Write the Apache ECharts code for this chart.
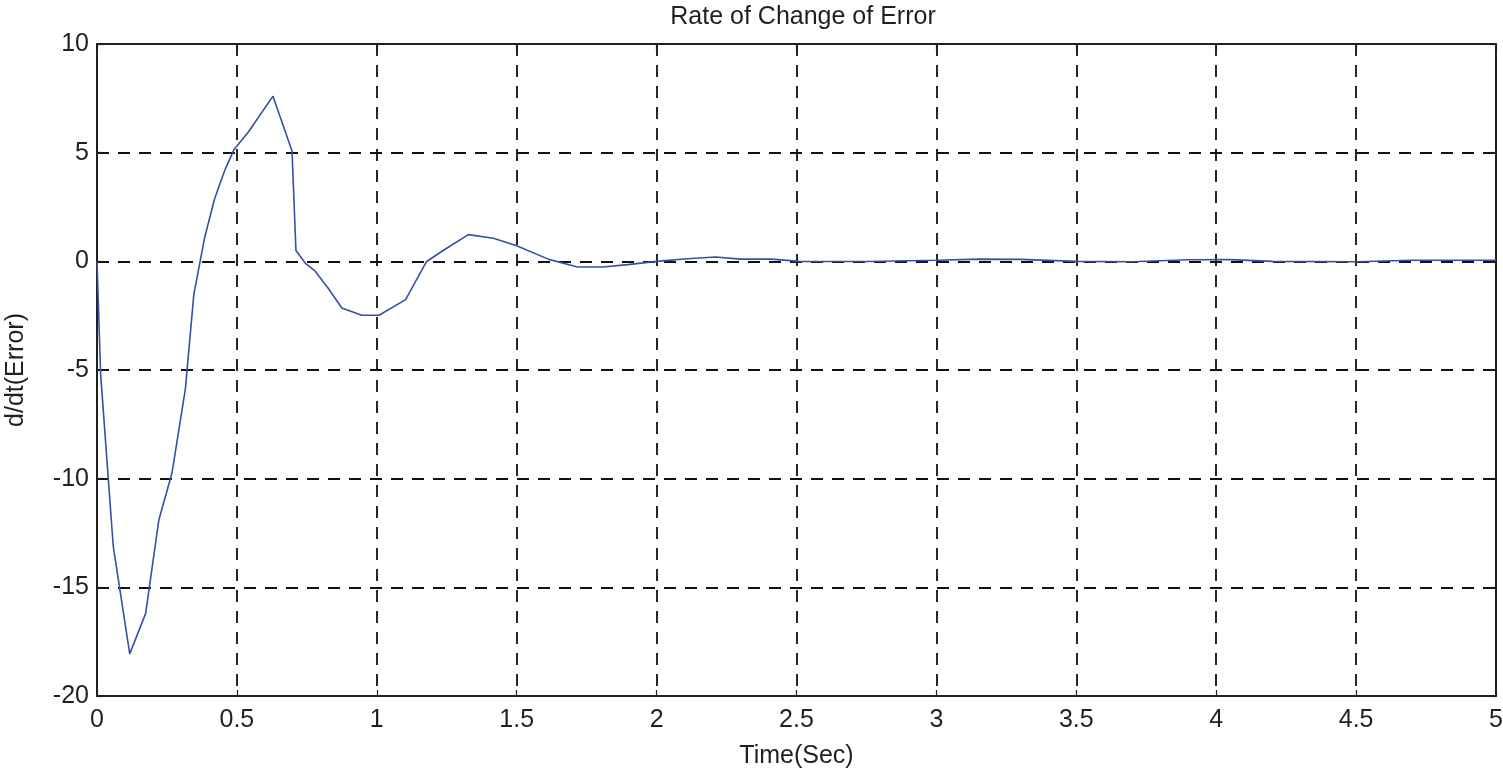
<!DOCTYPE html>
<html>
<head>
<meta charset="utf-8">
<script src="https://cdn.jsdelivr.net/npm/echarts@6/dist/echarts.min.js"></script>
<style>
  html, body { margin: 0; padding: 0; background: #fff; }
  #chart { width: 1503px; height: 770px; }
</style>
</head>
<body>
<div id="chart"></div>
<script>
  // time samples (sec) and rate of change of error
  const timeSec = [0, 0.013, 0.058, 0.117, 0.174, 0.221, 0.268, 0.316, 0.346, 0.385,
    0.42, 0.457, 0.49, 0.541, 0.629, 0.697, 0.711, 0.744, 0.779, 0.827,
    0.875, 0.946, 1.008, 1.103, 1.177, 1.237, 1.327, 1.417, 1.5, 1.615,
    1.717, 1.807, 1.897, 2.0, 2.11, 2.21, 2.3, 2.41, 2.51, 2.75,
    3.0, 3.15, 3.3, 3.5, 3.7, 3.9, 4.05, 4.2, 4.5, 4.7, 5.0];
  const dErr = [0, -5.2, -13.1, -18.06, -16.2, -11.9, -9.74, -5.86, -1.53, 1.11,
    2.87, 4.2, 5.15, 5.95, 7.6, 5.08, 0.5, -0.08, -0.44, -1.25,
    -2.15, -2.48, -2.48, -1.76, -0.02, 0.5, 1.23, 1.06, 0.72, 0.09,
    -0.26, -0.26, -0.15, 0, 0.12, 0.2, 0.1, 0.1, 0, -0.01,
    0.05, 0.1, 0.09, 0, -0.02, 0.07, 0.08, 0, -0.02, 0.05, 0.05];

  const xMin = 0, xMax = 5, xStep = 0.5;
  const yMin = -20, yMax = 10, yStep = 5;

  const font = 'Liberation Sans, Arial, Helvetica, sans-serif';
  const ink = '#231f20';
  const myChart = echarts.init(document.getElementById('chart'));

  const frameLine = { show: true, onZero: false, lineStyle: { color: ink, width: 2 } };
  const tickIn = { show: true, inside: true, length: 6, lineStyle: { color: ink, width: 1.2 } };
  const gridDash = { show: true, lineStyle: { color: '#111', width: 1.8, type: [12, 9] } };

  const option = {
    backgroundColor: '#ffffff',
    animation: false,
    title: {
      text: 'Rate of Change of Error',
      left: 798,
      top: 0,
      textAlign: 'center',
      textStyle: { fontFamily: font, fontSize: 25, fontWeight: 'normal', color: ink }
    },
    grid: { left: 97, right: 7, top: 44, bottom: 74, outerBoundsMode: 'none', containLabel: false },
    xAxis: [
      {
        type: 'value', min: xMin, max: xMax, interval: xStep,
        name: 'Time(Sec)', nameLocation: 'middle', nameGap: 48,
        nameTextStyle: { fontFamily: font, fontSize: 25, color: ink },
        axisLine: frameLine, axisTick: tickIn, splitLine: gridDash,
        axisLabel: { fontFamily: font, fontSize: 25, color: ink, margin: 12 }
      },
      {
        type: 'value', position: 'top', min: xMin, max: xMax, interval: xStep,
        axisLine: frameLine, axisTick: tickIn, splitLine: { show: false },
        axisLabel: { show: false }
      }
    ],
    yAxis: [
      {
        type: 'value', min: yMin, max: yMax, interval: yStep,
        name: 'd/dt(Error)', nameLocation: 'middle', nameGap: 68,
        nameTextStyle: { fontFamily: font, fontSize: 25, color: ink },
        axisLine: frameLine, axisTick: tickIn, splitLine: gridDash,
        axisLabel: { fontFamily: font, fontSize: 25, color: ink, margin: 8 }
      },
      {
        type: 'value', position: 'right', min: yMin, max: yMax, interval: yStep,
        axisLine: frameLine, axisTick: tickIn, splitLine: { show: false },
        axisLabel: { show: false }
      }
    ],
    series: [
      {
        type: 'line',
        data: timeSec.map((t, i) => [t, dErr[i]]),
        showSymbol: false,
        lineStyle: { color: '#3550a6', width: 1.6 },
        itemStyle: { color: '#3550a6' }
      }
    ]
  };
  myChart.setOption(option);
</script>
</body>
</html>
